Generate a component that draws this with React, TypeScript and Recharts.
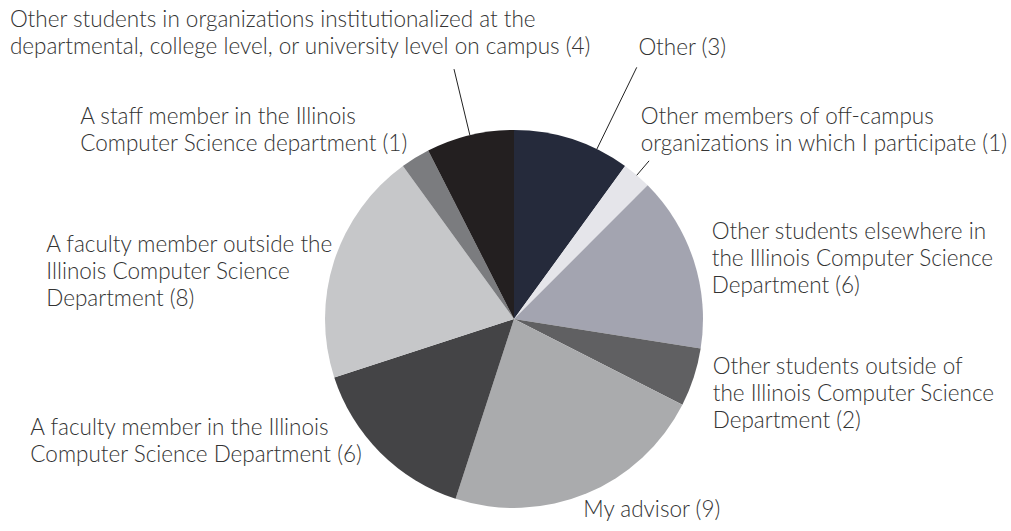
import React from 'react';
import { PieChart, Pie, Cell } from 'recharts';

// slice sizes as drawn (each unit is 9 degrees of the circle)
const sliceNames = [
  'Other',
  'Other members of off-campus organizations',
  'Other students elsewhere in CS',
  'Other students outside of CS',
  'My advisor',
  'A faculty member in CS',
  'A faculty member outside CS',
  'A staff member in CS',
  'Other students in organizations',
];
const sliceValues = [4, 1, 6, 2, 9, 6, 8, 1, 3];

const labelLines: string[][] = [
  ['Other (3)'],
  ['Other members of off-campus', 'organizations in which I participate (1)'],
  ['Other students elsewhere in', 'the Illinois Computer Science', 'Department (6)'],
  ['Other students outside of', 'the Illinois Computer Science', 'Department (2)'],
  ['My advisor (9)'],
  ['A faculty member in the Illinois', 'Computer Science Department (6)'],
  ['A faculty member outside the', 'Illinois Computer Science', 'Department (8)'],
  ['A staff member in the Illinois', 'Computer Science department (1)'],
  ['Other students in organizations institutionalized at the', 'departmental, college level, or university level on campus (4)'],
];

const COLORS = ['#252a3b', '#e5e5ea', '#a3a4b0', '#606062', '#aaabad', '#444446', '#c6c7c9', '#7b7c7f', '#231f20'];

// label placement relative to the slice's outer mid point; line = [angle shift, length]
const LAYOUT = [
  { dx: 66, dy: -84, line: [-8, 91] },
  { dx: 4, dy: -51, line: [0, 19] },
  { dx: 18, dy: -22, line: null },
  { dx: 19, dy: -3, line: null },
  { dx: -3, dy: 23, line: null },
  { dx: -350, dy: -18, line: null },
  { dx: -288, dy: -9, line: null },
  { dx: -335, dy: -34, line: null },
  { dx: -460, dy: -108, line: [0, 68] },
];

const RAD = Math.PI / 180;
const LINE_H = 27;

const renderLabel = (props: any) => {
  const { cx, cy, midAngle, outerRadius, index } = props;
  const lay = LAYOUT[index];
  const ax = cx + outerRadius * Math.cos(-midAngle * RAD);
  const ay = cy + outerRadius * Math.sin(-midAngle * RAD);
  const tx = ax + lay.dx;
  const ty = ay + lay.dy;
  let leader = null;
  if (lay.line) {
    const a = midAngle + lay.line[0];
    const r2 = outerRadius + lay.line[1];
    leader = (
      <line
        x1={cx + outerRadius * Math.cos(-a * RAD)}
        y1={cy + outerRadius * Math.sin(-a * RAD)}
        x2={cx + r2 * Math.cos(-a * RAD)}
        y2={cy + r2 * Math.sin(-a * RAD)}
        stroke="#222"
        strokeWidth={1}
      />
    );
  }
  return (
    <g key={`lbl-${index}`}>
      {leader}
      <text x={tx} y={ty} fill="#333" fontSize={22.5} fontWeight={300} fontFamily="Lato, 'Open Sans', sans-serif" textAnchor="start">
        {labelLines[index].map((t, i) => (
          <tspan key={i} x={tx} dy={i === 0 ? 0 : LINE_H}>{t}</tspan>
        ))}
      </text>
    </g>
  );
};

const App: React.FC = () => {
  const data = sliceNames.map((n, i) => ({ name: n, value: sliceValues[i] }));
  return (
    <div style={{ position: 'absolute', left: 0, top: 0, width: 1011, height: 531, background: '#fff' }}>
      <PieChart width={1011} height={531} margin={{ top: 0, right: 0, bottom: 0, left: 0 }}>
        <Pie
          data={data}
          dataKey="value"
          cx={514}
          cy={319}
          outerRadius={189}
          startAngle={90}
          endAngle={-270}
          stroke="none"
          label={renderLabel}
          labelLine={false}
          isAnimationActive={false}
        >
          {data.map((d, i) => (
            <Cell key={`cell-${i}`} fill={COLORS[i]} />
          ))}
        </Pie>
      </PieChart>
    </div>
  );
};

export default App;
